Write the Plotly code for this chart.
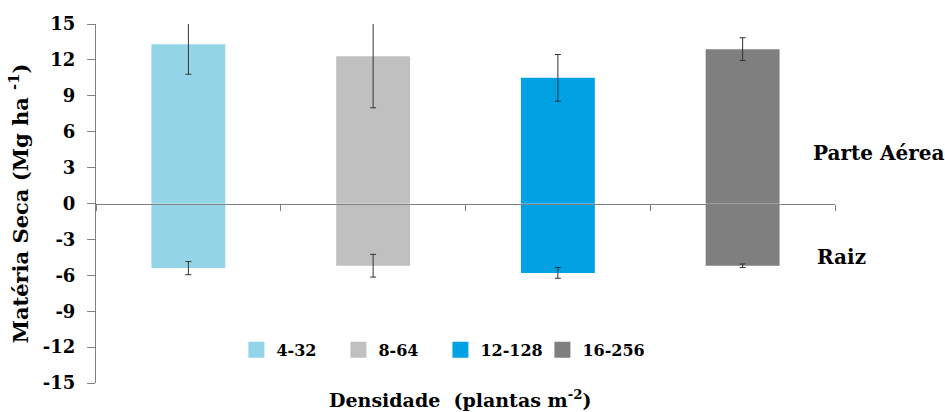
import plotly.graph_objects as go

# Densidade de plantio (plantas m-2)
categories = ["4-32", "8-64", "12-128", "16-256"]
colors = ["#94D4E7", "#C0C0C0", "#00A2E4", "#7F7F7F"]

# Matéria seca (Mg ha-1): parte aérea (positivo) e raiz (negativo)
parte_aerea = [13.3, 12.3, 10.5, 12.9]
parte_aerea_err = [2.5, 4.3, 1.95, 0.95]
raiz = [-5.4, -5.2, -5.8, -5.2]
raiz_err = [0.55, 0.95, 0.45, 0.15]

y_ticks = [15, 12, 9, 6, 3, 0, -3, -6, -9, -12, -15]
y_tick_text = ["15", "12", "9", "6", "3", "0", "-3", "-6", "-9", "-12", "-15"]

FONT = "DejaVu Serif"

fig = go.Figure()
for i, cat in enumerate(categories):
    fig.add_trace(go.Bar(
        x=[i, i],
        y=[parte_aerea[i], raiz[i]],
        width=0.4,
        marker=dict(color=colors[i], line=dict(width=0)),
        error_y=dict(type="data", array=[parte_aerea_err[i], raiz_err[i]],
                     color="#333333", thickness=1, width=3),
        showlegend=False,
        hoverinfo="y",
    ))
    # legend swatch
    fig.add_trace(go.Scatter(
        x=[None], y=[None], mode="markers", name=cat,
        marker=dict(symbol="square", size=16, color=colors[i]),
    ))

fig.update_layout(
    width=945, height=412,
    margin=dict(l=96, r=110, t=24, b=29),
    plot_bgcolor="white", paper_bgcolor="white",
    barmode="overlay",
    font=dict(family=FONT, color="black", size=18, weight="bold"),
    showlegend=True,
    legend=dict(
        orientation="h", x=0.19, xanchor="left", y=0.092, yanchor="middle",
        font=dict(family=FONT, size=16, weight="bold"),
        entrywidth=57, entrywidthmode="pixels", itemwidth=30,
        bgcolor="rgba(0,0,0,0)",
    ),
    xaxis=dict(
        range=[-0.5, 3.5],
        tickvals=[-0.5, 0.5, 1.5, 2.5, 3.5],
        showticklabels=False,
        ticks="outside", ticklen=6, tickcolor="#808080", tickwidth=1,
        showline=True, linecolor="#808080", linewidth=1,
        showgrid=False, zeroline=False,
        anchor="free", position=0.5,
    ),
    yaxis=dict(
        range=[-15, 15],
        tickvals=y_ticks, ticktext=y_tick_text,
        ticks="outside", ticklen=8, tickcolor="#808080", tickwidth=1,
        ticklabelstandoff=8,
        showline=True, linecolor="#808080", linewidth=1,
        showgrid=False, zeroline=False,
        tickfont=dict(family=FONT, size=18, weight="bold"),
        title=dict(text="Matéria Seca (Mg ha <sup>-1</sup>)",
                   font=dict(family=FONT, size=21, weight="bold"), standoff=8),
    ),
    annotations=[
        dict(text="Parte Aérea", xref="paper", yref="y", x=0.968, y=4.2,
             xanchor="left", yanchor="middle", showarrow=False,
             font=dict(family=FONT, size=20, weight="bold")),
        dict(text="Raiz", xref="paper", yref="y", x=0.973, y=-4.5,
             xanchor="left", yanchor="middle", showarrow=False,
             font=dict(family=FONT, size=20, weight="bold")),
        dict(text="Densidade  (plantas m<sup>-2</sup>)", xref="paper", yref="paper",
             x=0.4926, y=-0.045, xanchor="center", yanchor="middle", showarrow=False,
             font=dict(family=FONT, size=19, weight="bold")),
    ],
)

fig.write_html("out.html")
